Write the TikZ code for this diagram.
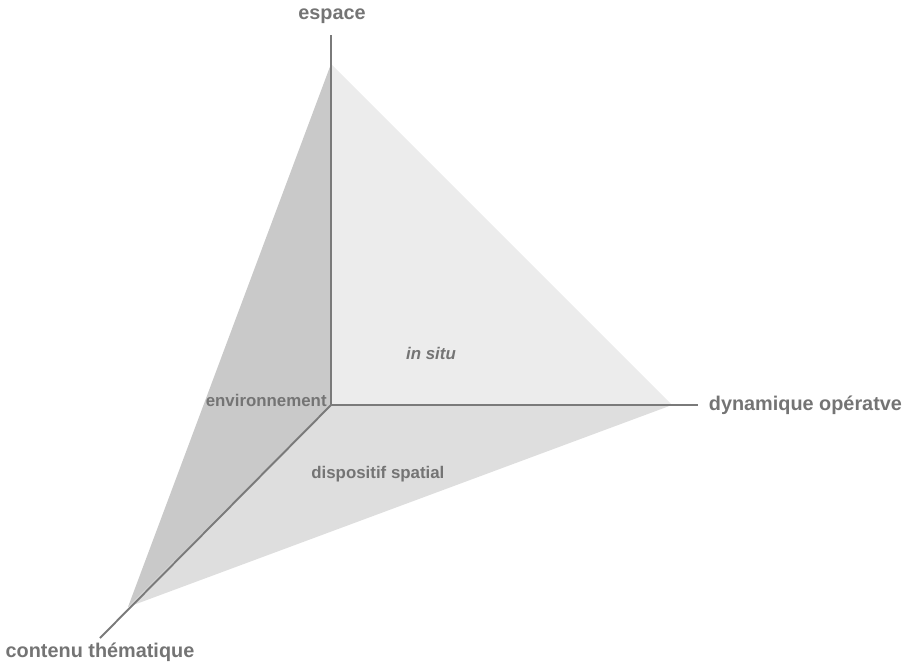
\documentclass[tikz,border=0pt]{standalone}
\usepackage{fontspec}
\setmainfont{Liberation Sans}
\usetikzlibrary{positioning}
\definecolor{axisgray}{HTML}{7A7A7A}
\definecolor{textgray}{HTML}{747474}
\definecolor{faceleft}{HTML}{C9C9C9}
\definecolor{faceback}{HTML}{ECECEC}
\definecolor{facebase}{HTML}{DEDEDE}

\begin{document}
\begin{tikzpicture}[
  x=0.02cm, y=-0.02cm,
  axis/.style={draw=axisgray, line width=1.1pt},
  face/.style={fill=#1, draw=none},
  axlabel/.style={font=\fontsize{11.3}{13}\selectfont\bfseries, text=textgray, inner sep=0pt},
  facelabel/.style={font=\fontsize{9.6}{11}\selectfont\bfseries, text=textgray, inner sep=0pt}
]
  \useasboundingbox (0,0) rectangle (905,663);

  % vertices of the tetrahedron
  \coordinate (o) at (331,405);
  \coordinate (top) at (331,64);
  \coordinate (right) at (672,405);
  \coordinate (low) at (128,607);

  % faces
  \fill[face=faceback] (o) -- (top) -- (right) -- cycle;
  \fill[face=facebase] (o) -- (right) -- (low) -- cycle;
  \fill[face=faceleft] (o) -- (top) -- (low) -- cycle;

  % axis ends
  \coordinate (topend) at (331,35);
  \coordinate (rightend) at (698,405);
  \coordinate (lowend) at (100,638);

  \draw[axis] (o) -- (topend);
  \draw[axis] (o) -- (rightend);
  \draw[axis] (o) -- (lowend);

  % labels
  \node[axlabel] (espace) at (332,16) {espace};
  \node[axlabel, anchor=west, right=6pt of rightend] (dyn) {dynamique opératve};
  \node[axlabel] (contenu) at (100,652) {contenu thématique};

  \node[facelabel, anchor=east] (env) at (327,400) {environnement};
  \node[facelabel, anchor=west] (disp) at (311,474) {dispositif spatial};
  \node[facelabel, font=\fontsize{9.6}{11}\selectfont\bfseries\itshape] (insitu) at (431,353) {in situ};
\end{tikzpicture}
\end{document}
